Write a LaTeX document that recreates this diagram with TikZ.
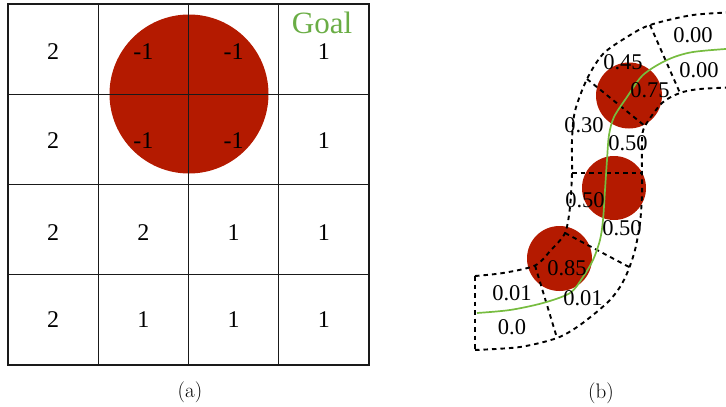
\documentclass[tikz,border=0pt]{standalone}
\usepackage{fontspec}
\usepackage{xcolor}
\usepackage{tikz}
\usetikzlibrary{positioning, shapes.geometric, calc}
\newfontfamily\timesfont{Liberation Serif}
\definecolor{ObstRed}{HTML}{B41A00}
\definecolor{GoalGreen}{HTML}{6AAD45}
\definecolor{PathGreen}{HTML}{76BC3F}
\definecolor{GridDark}{HTML}{1A1A1A}

\begin{document}
\begin{tikzpicture}[x=1pt, y=-1pt,
    cell/.style={minimum size=90.25pt, draw=GridDark, line width=1.4pt, inner sep=0pt},
    obst/.style={circle, fill=ObstRed, inner sep=0pt},
    val/.style={font=\timesfont\fontsize{24}{28}\selectfont, inner sep=0pt},
    cost/.style={font=\timesfont\fontsize{22.5}{26}\selectfont, inner sep=0pt},
    lane/.style={line width=1.9pt, dash pattern=on 4.5pt off 4pt},
    route/.style={PathGreen, line width=1.7pt},
    capt/.style={font=\fontsize{21}{25}\selectfont}
]
\useasboundingbox (0,0) rectangle (726,407);
\clip (0,0) rectangle (726,407);

% --- (a) grid ---
\node[obst, minimum size=159pt] (hole) at (189,94) {};
\node[cell] (c11) at (53.1,49.1) {};
\node[cell] (c12) at (143.4,49.1) {};
\node[cell] (c13) at (233.6,49.1) {};
\node[cell] (c14) at (323.9,49.1) {};
\node[cell] (c21) at (53.1,139.4) {};
\node[cell] (c22) at (143.4,139.4) {};
\node[cell] (c23) at (233.6,139.4) {};
\node[cell] (c24) at (323.9,139.4) {};
\node[cell] (c31) at (53.1,229.6) {};
\node[cell] (c32) at (143.4,229.6) {};
\node[cell] (c33) at (233.6,229.6) {};
\node[cell] (c34) at (323.9,229.6) {};
\node[cell] (c41) at (53.1,319.9) {};
\node[cell] (c42) at (143.4,319.9) {};
\node[cell] (c43) at (233.6,319.9) {};
\node[cell] (c44) at (323.9,319.9) {};
% values
\node[val] at ([yshift=-2.5pt]c11.center) {2};
\node[val] at ([yshift=-2.5pt]c12.center) {-1};
\node[val] at ([yshift=-2.5pt]c13.center) {-1};
\node[val] at ([yshift=-2.5pt]c14.center) {1};
\node[val] at ([yshift=-1pt]c21.center) {2};
\node[val] at ([yshift=-1pt]c22.center) {-1};
\node[val] at ([yshift=-1pt]c23.center) {-1};
\node[val] at ([yshift=-1pt]c24.center) {1};
\node[val] at ([yshift=-3pt]c31.center) {2};
\node[val] at ([yshift=-3pt]c32.center) {2};
\node[val] at ([yshift=-3pt]c33.center) {1};
\node[val] at ([yshift=-3pt]c34.center) {1};
\node[val] at (c41.center) {2};
\node[val] at (c42.center) {1};
\node[val] at (c43.center) {1};
\node[val] at (c44.center) {1};
\node[font=\timesfont\fontsize{31}{34}\selectfont, GoalGreen, anchor=base, inner sep=0pt] (goal) at (322,33.5) {Goal};
\node[capt] (capa) at (190,392) {(a)};

% --- (b) lane ---
\node[obst, minimum size=66pt] (obs1) at (629,95.5) {};
\node[obst, minimum size=64pt] (obs2) at (614,188) {};
\node[obst, minimum size=65pt] (obs3) at (559.5,258.5) {};

\coordinate (in0) at (475,276);
\coordinate (in1) at (535,265.5);
\coordinate (in2) at (565,233);
\coordinate (in3) at (572,173);
\coordinate (in4) at (587,79);
\coordinate (in5) at (650,25);
\coordinate (out0) at (475,350);
\coordinate (out1) at (557,338);
\coordinate (out2) at (628,271);
\coordinate (out3) at (642,173);
\coordinate (out4) at (645,126);
\coordinate (out5) at (680,93);

\draw[lane] plot[smooth, tension=0.5] coordinates {(in0) (503,273) (in1) (551,250) (in2) (570,207) (in3) (572,140) (575,111) (in4) (603,54) (627,37) (in5) (693,15) (740,12)};
\draw[lane] plot[smooth, tension=0.5] coordinates {(out0) (520,347) (out1) (580,325) (607,303) (620,287) (out2) (635,250) (640,223) (642,195) (out3) (642,140) (out4) (662,103) (out5) (700,89) (740,87)};
\draw[lane] (in0) -- (out0);
\draw[lane] (in1) -- (out1);
\draw[lane] (in2) -- ([shift={(3pt,3pt)}]out2);
\draw[lane] (in3) -- (out3);
\draw[lane] (in4) -- (out4);
\draw[lane] (in5) -- (out5);

\draw[route] plot[smooth, tension=0.5] coordinates {(477,313) (510,310) (543,303) (570,293) (583,277) (593,260) (600,240) (603,220) (605,190) (607,160) (609,135) (614,117) (627,97) (643,75) (667,60) (693,52) (740,48)};

% costs
\node[cost] (k1) at (693,35) {0.00};
\node[cost] (k2) at (699,70) {0.00};
\node[cost] (k3) at (623,62) {0.45};
\node[cost] (k4) at (650,90) {0.75};
\node[cost] (k5) at (584,125) {0.30};
\node[cost] (k6) at (628,143) {0.50};
\node[cost] (k7) at (585,200) {0.50};
\node[cost] (k8) at (622,228) {0.50};
\node[cost] (k9) at (567,268) {0.85};
\node[cost] (k10) at (512,293) {0.01};
\node[cost] (k11) at (583,298) {0.01};
\node[cost] (k12) at (512,327) {0.0};
\node[capt] (capb) at (601,393) {(b)};
\end{tikzpicture}
\end{document}
